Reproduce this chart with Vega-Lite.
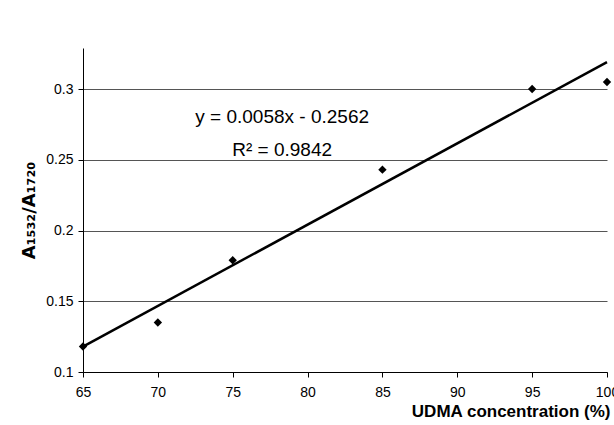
{
  "$schema": "https://vega.github.io/schema/vega-lite/v6.json",
  "width": 524,
  "height": 324,
  "autosize": {"type": "none"},
  "padding": {"left": 83, "top": 48, "right": 7, "bottom": 53},
  "background": "white",
  "config": {
    "view": {"stroke": null},
    "font": "Liberation Sans"
  },
  "datasets": {
    "points": [
      {"udma": 65, "ratio": 0.118},
      {"udma": 70, "ratio": 0.135},
      {"udma": 75, "ratio": 0.179},
      {"udma": 85, "ratio": 0.243},
      {"udma": 95, "ratio": 0.3},
      {"udma": 100, "ratio": 0.305}
    ],
    "trend": [
      {"udma": 65, "ratio": 0.118},
      {"udma": 100, "ratio": 0.319}
    ],
    "labels": [
      {"udma": 78.3, "ratio": 0.28, "text": "y = 0.0058x - 0.2562"},
      {"udma": 78.3, "ratio": 0.257, "text": "R² = 0.9842"}
    ]
  },
  "layer": [
    {
      "data": {"name": "trend"},
      "mark": {"type": "line", "color": "black", "strokeWidth": 2.5, "clip": false},
      "encoding": {
        "x": {
          "field": "udma", "type": "quantitative",
          "scale": {"domain": [65, 100], "nice": false, "zero": false},
          "axis": {
            "values": [65, 70, 75, 80, 85, 90, 95, 100],
            "title": "UDMA concentration (%)",
            "titleAnchor": "end",
            "titleAlign": "right",
            "titleX": 527,
            "titleFontWeight": "bold",
            "titleFontSize": 17,
            "titleColor": "black",
            "titlePadding": 4,
            "labelFontSize": 14,
            "labelColor": "black",
            "labelFlush": false,
            "labelBound": false,
            "labelOverlap": false,
            "labelPadding": 8,
            "domainColor": "black",
            "tickColor": "black",
            "tickSize": 5,
            "grid": false
          }
        },
        "y": {
          "field": "ratio", "type": "quantitative",
          "scale": {"domain": [0.1, 0.329], "nice": false, "zero": false},
          "axis": {
            "values": [0.1, 0.15, 0.2, 0.25, 0.3],
            "format": ".2~f",
            "title": "A₁₅₃₂/A₁₇₂₀",
            "titleFont": "DejaVu Sans",
            "titleFontWeight": "bold",
            "titleFontSize": 18,
            "titleColor": "black",
            "titlePadding": 7,
            "labelFontSize": 14,
            "labelColor": "black",
            "labelPadding": 5,
            "domainColor": "black",
            "tickColor": "black",
            "tickSize": 5,
            "grid": true,
            "gridColor": "#555555",
            "gridWidth": 1
          }
        }
      }
    },
    {
      "data": {"name": "points"},
      "mark": {"type": "point", "shape": "diamond", "filled": true, "color": "black", "size": 70, "opacity": 1, "clip": false},
      "encoding": {
        "x": {"field": "udma", "type": "quantitative"},
        "y": {"field": "ratio", "type": "quantitative"}
      }
    },
    {
      "data": {"name": "labels"},
      "mark": {"type": "text", "fontSize": 19, "color": "black", "align": "center", "baseline": "middle"},
      "encoding": {
        "x": {"field": "udma", "type": "quantitative"},
        "y": {"field": "ratio", "type": "quantitative"},
        "text": {"field": "text"}
      }
    }
  ]
}
